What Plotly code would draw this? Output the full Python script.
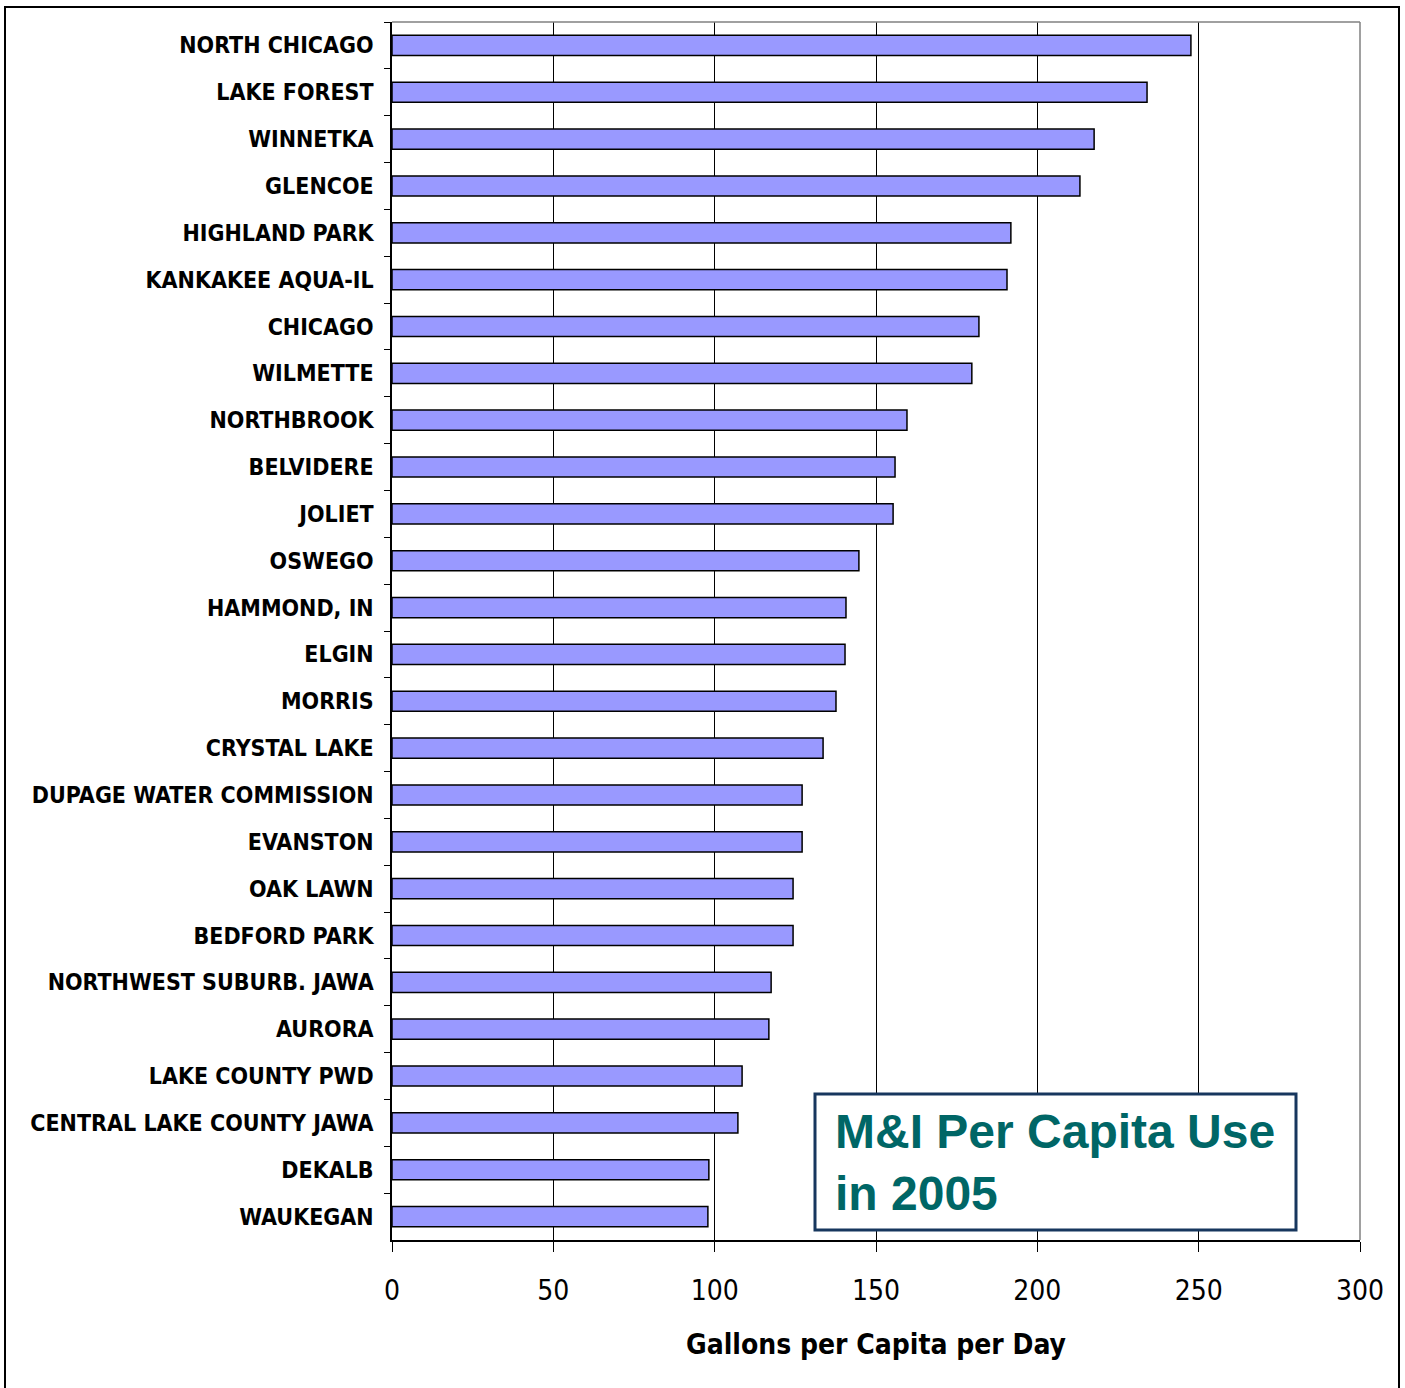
import plotly.graph_objects as go

cities = ["NORTH CHICAGO", "LAKE FOREST", "WINNETKA", "GLENCOE", "HIGHLAND PARK",
          "KANKAKEE AQUA-IL", "CHICAGO", "WILMETTE", "NORTHBROOK", "BELVIDERE",
          "JOLIET", "OSWEGO", "HAMMOND, IN", "ELGIN", "MORRIS", "CRYSTAL LAKE",
          "DUPAGE WATER COMMISSION", "EVANSTON", "OAK LAWN", "BEDFORD PARK",
          "NORTHWEST SUBURB. JAWA", "AURORA", "LAKE COUNTY PWD",
          "CENTRAL LAKE COUNTY JAWA", "DEKALB", "WAUKEGAN"]
gpcd = [247.6, 234.0, 217.6, 213.2, 191.8, 190.6, 181.9, 179.7, 159.6, 155.9,
        155.3, 144.7, 140.7, 140.4, 137.6, 133.6, 127.1, 127.1, 124.3, 124.3,
        117.5, 116.8, 108.5, 107.2, 98.2, 97.9]
x_ticks = [0, 50, 100, 150, 200, 250, 300]

W, H = 1405, 1388
L, R, T, B = 392, 45, 22, 148
pw = W - L - R
ph = H - T - B

def px(x):
    return (x - L) / pw

def py(y):
    return (H - B - y) / ph

narrow = "DejaVu Sans Condensed, Liberation Sans Narrow, Arial Narrow, sans-serif"

fig = go.Figure()
fig.add_trace(go.Bar(
    y=cities, x=gpcd, orientation="h",
    marker=dict(color="#9999FF", line=dict(color="#000000", width=1.5)),
    width=0.43,
))

fig.update_layout(
    width=W, height=H,
    margin=dict(l=L, r=R, t=T, b=B),
    paper_bgcolor="white", plot_bgcolor="white",
    showlegend=False,
    bargap=0.57,
    xaxis=dict(
        range=[0, 300], tickvals=x_ticks, ticktext=[str(v) for v in x_ticks],
        showgrid=True, gridcolor="#000000", gridwidth=1,
        showline=True, linecolor="#000000", linewidth=1.5,
        ticks="outside", ticklen=10, tickcolor="#000000",
        tickfont=dict(family=narrow, size=28, color="#000000"),
        ticklabelstandoff=15,
        title=dict(text="<b>Gallons per Capita per Day</b>",
                   font=dict(family=narrow, size=28, color="#000000"), standoff=28),
        zeroline=False, fixedrange=True, automargin=False,
    ),
    yaxis=dict(
        autorange="reversed",
        showline=True, linecolor="#000000", linewidth=1.5,
        ticks="outside", ticklen=6, tickcolor="#000000", tickson="boundaries",
        tickfont=dict(family=narrow, size=23, color="#000000", weight="bold"),
        ticklabelstandoff=12,
        showgrid=False, fixedrange=True, automargin=False,
    ),
)

# gray top and right plot border
fig.add_shape(type="line", xref="paper", yref="paper", x0=0, x1=1, y0=1, y1=1,
              line=dict(color="#808080", width=1.5), layer="above")
fig.add_shape(type="line", xref="paper", yref="paper", x0=1, x1=1, y0=0, y1=1,
              line=dict(color="#808080", width=1.5), layer="above")

# outer frame
fig.add_shape(type="rect", xref="paper", yref="paper",
              x0=px(5), x1=px(1399), y0=py(1400), y1=py(7),
              line=dict(color="#000000", width=2), fillcolor="rgba(0,0,0,0)",
              layer="above")

# title box
fig.add_shape(type="rect", xref="paper", yref="paper",
              x0=px(815), x1=px(1296), y0=py(1230), y1=py(1094),
              line=dict(color="#17375E", width=3), fillcolor="white", layer="above")
fig.add_annotation(xref="paper", yref="paper", x=px(833), y=py(1162),
                   xanchor="left", yanchor="middle", align="left", showarrow=False,
                   text="<b>M&I Per Capita Use<br>in 2005</b>",
                   font=dict(family="Liberation Sans, Arial, sans-serif", size=48,
                             color="#006666"))

fig.write_html("out.html")
